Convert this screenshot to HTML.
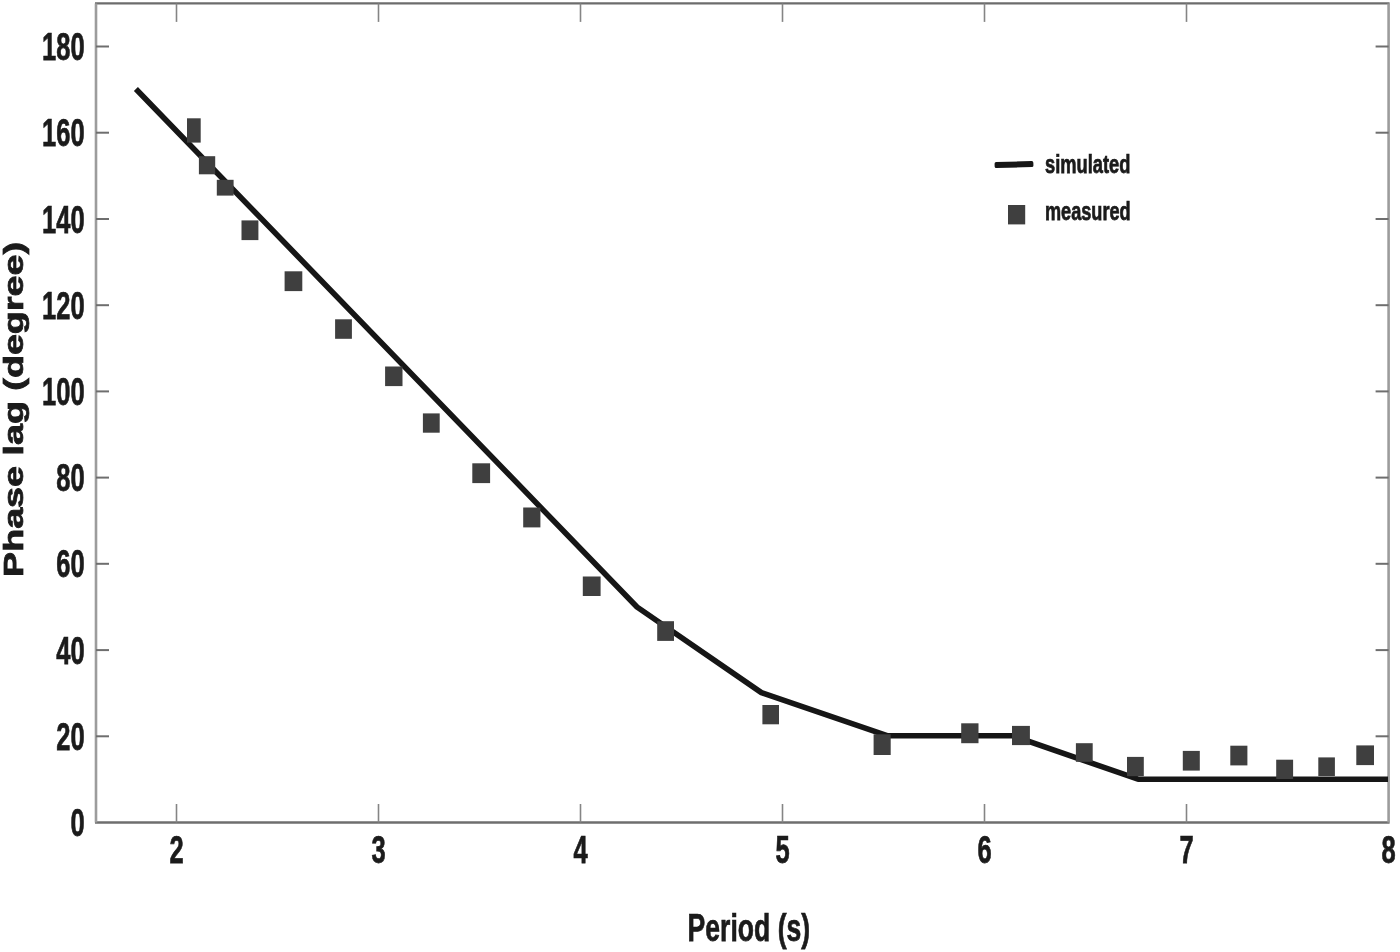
<!DOCTYPE html><html><head><meta charset="utf-8"><style>html,body{margin:0;padding:0;background:#fff;width:1400px;height:952px;overflow:hidden}svg{display:block;filter:blur(0.6px)}text{font-family:"Liberation Sans",sans-serif;font-weight:bold;fill:#1b1b1b;stroke:#1b1b1b;stroke-width:0.75px}</style></head><body>
<svg width="1400" height="952" viewBox="0 0 1400 952">
<rect width="1400" height="952" fill="#fff"/>
<line x1="95.0" y1="3.4" x2="1389.6" y2="3.4" stroke="#6c6c6c" stroke-width="2.4"/>
<line x1="95.0" y1="822.5" x2="1389.6" y2="822.5" stroke="#6e6e6e" stroke-width="2.3"/>
<line x1="96.0" y1="3.4" x2="96.0" y2="822.5" stroke="#9c9c9c" stroke-width="2.6"/>
<line x1="1388.6" y1="3.4" x2="1388.6" y2="822.5" stroke="#9c9c9c" stroke-width="2.6"/>
<line x1="176.5" y1="3.4" x2="176.5" y2="21.9" stroke="#858585" stroke-width="1.6"/>
<line x1="176.5" y1="822.5" x2="176.5" y2="804.0" stroke="#858585" stroke-width="1.6"/>
<line x1="378.5" y1="3.4" x2="378.5" y2="21.9" stroke="#858585" stroke-width="1.6"/>
<line x1="378.5" y1="822.5" x2="378.5" y2="804.0" stroke="#858585" stroke-width="1.6"/>
<line x1="580.5" y1="3.4" x2="580.5" y2="21.9" stroke="#858585" stroke-width="1.6"/>
<line x1="580.5" y1="822.5" x2="580.5" y2="804.0" stroke="#858585" stroke-width="1.6"/>
<line x1="782.5" y1="3.4" x2="782.5" y2="21.9" stroke="#858585" stroke-width="1.6"/>
<line x1="782.5" y1="822.5" x2="782.5" y2="804.0" stroke="#858585" stroke-width="1.6"/>
<line x1="984.5" y1="3.4" x2="984.5" y2="21.9" stroke="#858585" stroke-width="1.6"/>
<line x1="984.5" y1="822.5" x2="984.5" y2="804.0" stroke="#858585" stroke-width="1.6"/>
<line x1="1186.5" y1="3.4" x2="1186.5" y2="21.9" stroke="#858585" stroke-width="1.6"/>
<line x1="1186.5" y1="822.5" x2="1186.5" y2="804.0" stroke="#858585" stroke-width="1.6"/>
<line x1="96.0" y1="736.3" x2="109.0" y2="736.3" stroke="#6e6e6e" stroke-width="2"/>
<line x1="1388.6" y1="736.3" x2="1375.6" y2="736.3" stroke="#6e6e6e" stroke-width="2"/>
<line x1="96.0" y1="650.1" x2="109.0" y2="650.1" stroke="#6e6e6e" stroke-width="2"/>
<line x1="1388.6" y1="650.1" x2="1375.6" y2="650.1" stroke="#6e6e6e" stroke-width="2"/>
<line x1="96.0" y1="563.8" x2="109.0" y2="563.8" stroke="#6e6e6e" stroke-width="2"/>
<line x1="1388.6" y1="563.8" x2="1375.6" y2="563.8" stroke="#6e6e6e" stroke-width="2"/>
<line x1="96.0" y1="477.6" x2="109.0" y2="477.6" stroke="#6e6e6e" stroke-width="2"/>
<line x1="1388.6" y1="477.6" x2="1375.6" y2="477.6" stroke="#6e6e6e" stroke-width="2"/>
<line x1="96.0" y1="391.4" x2="109.0" y2="391.4" stroke="#6e6e6e" stroke-width="2"/>
<line x1="1388.6" y1="391.4" x2="1375.6" y2="391.4" stroke="#6e6e6e" stroke-width="2"/>
<line x1="96.0" y1="305.2" x2="109.0" y2="305.2" stroke="#6e6e6e" stroke-width="2"/>
<line x1="1388.6" y1="305.2" x2="1375.6" y2="305.2" stroke="#6e6e6e" stroke-width="2"/>
<line x1="96.0" y1="219.0" x2="109.0" y2="219.0" stroke="#6e6e6e" stroke-width="2"/>
<line x1="1388.6" y1="219.0" x2="1375.6" y2="219.0" stroke="#6e6e6e" stroke-width="2"/>
<line x1="96.0" y1="132.7" x2="109.0" y2="132.7" stroke="#6e6e6e" stroke-width="2"/>
<line x1="1388.6" y1="132.7" x2="1375.6" y2="132.7" stroke="#6e6e6e" stroke-width="2"/>
<line x1="96.0" y1="46.5" x2="109.0" y2="46.5" stroke="#6e6e6e" stroke-width="2"/>
<line x1="1388.6" y1="46.5" x2="1375.6" y2="46.5" stroke="#6e6e6e" stroke-width="2"/>
<text x="70.4" y="836.1" font-size="39.6" textLength="14.2" lengthAdjust="spacingAndGlyphs">0</text>
<text x="56.2" y="749.8" font-size="39.6" textLength="28.4" lengthAdjust="spacingAndGlyphs">20</text>
<text x="56.2" y="663.6" font-size="39.6" textLength="28.4" lengthAdjust="spacingAndGlyphs">40</text>
<text x="56.2" y="577.4" font-size="39.6" textLength="28.4" lengthAdjust="spacingAndGlyphs">60</text>
<text x="56.2" y="491.2" font-size="39.6" textLength="28.4" lengthAdjust="spacingAndGlyphs">80</text>
<text x="42.0" y="405.0" font-size="39.6" textLength="42.6" lengthAdjust="spacingAndGlyphs">100</text>
<text x="42.0" y="318.7" font-size="39.6" textLength="42.6" lengthAdjust="spacingAndGlyphs">120</text>
<text x="42.0" y="232.5" font-size="39.6" textLength="42.6" lengthAdjust="spacingAndGlyphs">140</text>
<text x="42.0" y="146.3" font-size="39.6" textLength="42.6" lengthAdjust="spacingAndGlyphs">160</text>
<text x="42.0" y="60.1" font-size="39.6" textLength="42.6" lengthAdjust="spacingAndGlyphs">180</text>
<text x="169.4" y="863.2" font-size="39.6" textLength="14.2" lengthAdjust="spacingAndGlyphs">2</text>
<text x="371.4" y="863.2" font-size="39.6" textLength="14.2" lengthAdjust="spacingAndGlyphs">3</text>
<text x="573.4" y="863.2" font-size="39.6" textLength="14.2" lengthAdjust="spacingAndGlyphs">4</text>
<text x="775.4" y="863.2" font-size="39.6" textLength="14.2" lengthAdjust="spacingAndGlyphs">5</text>
<text x="977.4" y="863.2" font-size="39.6" textLength="14.2" lengthAdjust="spacingAndGlyphs">6</text>
<text x="1179.4" y="863.2" font-size="39.6" textLength="14.2" lengthAdjust="spacingAndGlyphs">7</text>
<text x="1381.4" y="863.2" font-size="39.6" textLength="14.2" lengthAdjust="spacingAndGlyphs">8</text>
<text x="687.6" y="941.2" font-size="39.6" textLength="122.5" lengthAdjust="spacingAndGlyphs">Period (s)</text>
<text transform="translate(22.8,577.0) rotate(-90)" x="0" y="0" font-size="28" textLength="335" lengthAdjust="spacingAndGlyphs">Phase lag (degree)</text>
<polyline points="135.9,89.0 637.0,607.0 761.4,692.6 887.1,735.7 1012.6,735.8 1138.0,779.2 1388.0,779.2" fill="none" stroke="#161616" stroke-width="5.6" stroke-linejoin="round"/>
<rect x="187.0" y="118.3" width="13.7" height="24.3" fill="#3f3f3f"/>
<rect x="198.9" y="156.2" width="16.3" height="18.1" fill="#3f3f3f"/>
<rect x="216.8" y="179.8" width="16.8" height="15.8" fill="#3f3f3f"/>
<rect x="241.5" y="220.4" width="16.9" height="19.7" fill="#3f3f3f"/>
<rect x="284.6" y="271.3" width="17.7" height="19.8" fill="#3f3f3f"/>
<rect x="335.1" y="319.3" width="16.8" height="19.5" fill="#3f3f3f"/>
<rect x="385.1" y="366.5" width="17.4" height="19.6" fill="#3f3f3f"/>
<rect x="422.9" y="413.4" width="16.8" height="19.3" fill="#3f3f3f"/>
<rect x="472.3" y="463.3" width="17.8" height="19.8" fill="#3f3f3f"/>
<rect x="523.2" y="507.5" width="17.2" height="19.9" fill="#3f3f3f"/>
<rect x="582.8" y="576.5" width="17.8" height="19.5" fill="#3f3f3f"/>
<rect x="657.2" y="621.2" width="16.8" height="19.7" fill="#3f3f3f"/>
<rect x="762.4" y="705.0" width="16.6" height="19.3" fill="#3f3f3f"/>
<rect x="873.6" y="734.3" width="17.1" height="20.7" fill="#3f3f3f"/>
<rect x="961.2" y="723.3" width="17.3" height="19.9" fill="#3f3f3f"/>
<rect x="1012.0" y="725.9" width="17.9" height="19.2" fill="#3f3f3f"/>
<rect x="1075.9" y="743.2" width="16.8" height="18.6" fill="#3f3f3f"/>
<rect x="1127.0" y="756.9" width="16.8" height="19.3" fill="#3f3f3f"/>
<rect x="1182.8" y="750.9" width="17.0" height="19.7" fill="#3f3f3f"/>
<rect x="1230.3" y="745.7" width="17.1" height="19.7" fill="#3f3f3f"/>
<rect x="1276.2" y="759.7" width="16.9" height="19.3" fill="#3f3f3f"/>
<rect x="1318.3" y="757.4" width="16.6" height="18.6" fill="#3f3f3f"/>
<rect x="1356.3" y="745.4" width="17.7" height="19.7" fill="#3f3f3f"/>
<rect x="994.6" y="161.6" width="38.8" height="6.0" rx="1.6" fill="#161616" transform="rotate(-1.63 1014 164.6)"/>
<rect x="1008" y="205" width="17.2" height="19.4" fill="#3f3f3f"/>
<text x="1045" y="172.8" font-size="26" textLength="85.3" lengthAdjust="spacingAndGlyphs">simulated</text>
<text x="1045" y="219.5" font-size="26" textLength="85.6" lengthAdjust="spacingAndGlyphs">measured</text>
</svg></body></html>
